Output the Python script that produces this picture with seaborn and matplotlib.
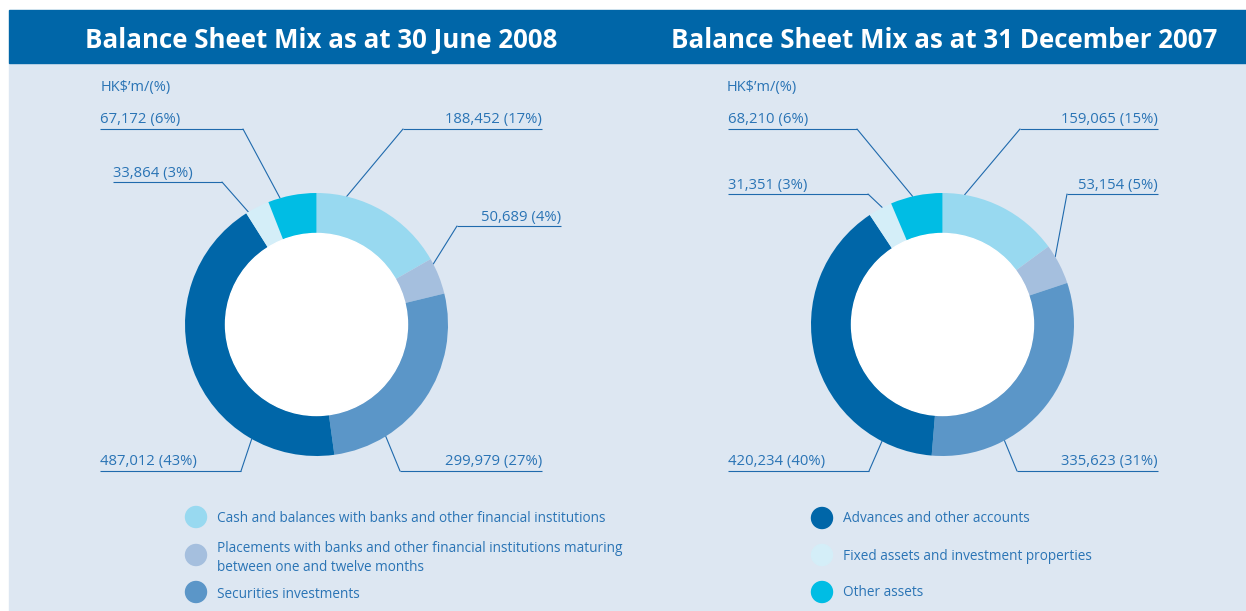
import matplotlib
matplotlib.use("Agg")
import matplotlib.pyplot as plt
import seaborn as sns
import numpy as np
from matplotlib.patches import Rectangle, Circle

# data
categories = ['Cash and balances with banks and other financial institutions',
              'Placements with banks and other financial institutions maturing\nbetween one and twelve months',
              'Securities investments',
              'Advances and other accounts',
              'Fixed assets and investment properties',
              'Other assets']
values_2008 = [188452, 50689, 299979, 487012, 33864, 67172]
pcts_2008 = [17, 4, 27, 43, 3, 6]
values_2007 = [159065, 53154, 335623, 420234, 31351, 68210]
pcts_2007 = [15, 5, 31, 40, 3, 6]
titles = ['Balance Sheet Mix as at 30 June 2008', 'Balance Sheet Mix as at 31 December 2007']
unit_label = "HK$\u2019m/(%)"

sns.set_style("white")
plt.rcParams['font.family'] = ['Open Sans', 'DejaVu Sans']
colors = sns.color_palette(['#98d9f0', '#a5bfde', '#5b96c8', '#0066a8', '#d4eef8', '#00bde4'])
txt_col = '#2a74b5'
line_col = '#1f6aad'

W, H = 1246, 611
fig = plt.figure(figsize=(W / 100, H / 100), dpi=100)
ax = fig.add_axes([0, 0, 1, 1])

def py(y):  # pixel-from-top -> axes y
    return H - y

# backgrounds
ax.add_patch(Rectangle((9, 0), W - 9, py(63), color='#dde7f2', zorder=0))
ax.add_patch(Rectangle((9, py(63)), W - 9, 53, color='#0066a8', zorder=0))

R, R_in = 131.5, 91
centers = [(316.5, 324.5), (942.5, 324.5)]
title_x = [321.5, 944.5]
unit_x = [101, 727]

# label layout per slice: (text x, text y, ha, underline x0, x1, elbow x, fraction along wedge)
layouts = [
    [(542, 118, 'right', 403, 542, 403, 0.22), (561, 215, 'right', 457, 561, 457, 0.15),
     (542, 460, 'right', 400, 542, 400, 0.75), (100, 460, 'left', 100, 241, 241, 0.24),
     (113, 171, 'left', 113, 222, 222, 0.1), (100, 118, 'left', 100, 243, 243, 0.25)],
    [(1158, 118, 'right', 1020, 1158, 1020, 0.18), (1158, 183, 'right', 1067, 1158, 1067, 0.3),
     (1158, 460, 'right', 1017, 1158, 1017, 0.71), (728, 460, 'left', 728, 869, 869, 0.16),
     (728, 183, 'left', 728, 868, 868, 0.6), (728, 118, 'left', 728, 857, 857, 0.43)],
]

for k, (vals, pcts) in enumerate([(values_2008, pcts_2008), (values_2007, pcts_2007)]):
    cx, cy = centers[k]
    wedges, _ = ax.pie(vals, colors=colors, startangle=90, counterclock=False,
                       center=(cx, py(cy)), radius=R, frame=True,
                       wedgeprops=dict(width=R - R_in, linewidth=0))
    ax.add_patch(Circle((cx, py(cy)), R_in, color='white', zorder=3))
    ax.text(title_x[k], py(48), titles[k], color='white', fontsize=18.6, fontweight='bold',
            ha='center', va='baseline')
    ax.text(unit_x[k], py(91), unit_label, color=txt_col, fontsize=10.5,
            ha='left', va='baseline')
    for w, v, p, lay in zip(wedges, vals, pcts, layouts[k]):
        tx, ty, ha, x0, x1, ex, frac = lay
        # clockwise pie: the wedge starts at theta2 and runs down to theta1
        ang = np.deg2rad(w.theta2 - frac * (w.theta2 - w.theta1))
        px_, py_ = cx + R * np.cos(ang), py(cy) + R * np.sin(ang)
        uy = py(ty + 11)
        ax.plot([x0, x1], [uy, uy], color=line_col, lw=0.8, solid_capstyle='butt', zorder=0.5)
        ax.plot([ex, px_], [uy, py_], color=line_col, lw=0.8, zorder=0.5)
        ax.text(tx, py(ty + 5.5), f"{v:,} ({p}%)", color=txt_col, fontsize=10.7,
                ha=ha, va='baseline')

# legends
leg_pos = [(196, 517), (196, 555), (196, 592), (822, 518), (822, 555), (822, 592)]
text_y = [519, 558, 595, 519, 556, 593]
for i, (cat, (lx, ly)) in enumerate(zip(categories, leg_pos)):
    ax.add_patch(Circle((lx, py(ly)), 10.5, color=colors[i], zorder=3))
    ax.text(lx + 21, py(text_y[i]), cat, color=txt_col, fontsize=9.85, ha='left', va='center',
            linespacing=1.3)

ax.set_xlim(0, W)
ax.set_ylim(0, H)
ax.set_aspect('auto')
ax.axis('off')
fig.savefig('out.png', dpi=100)
